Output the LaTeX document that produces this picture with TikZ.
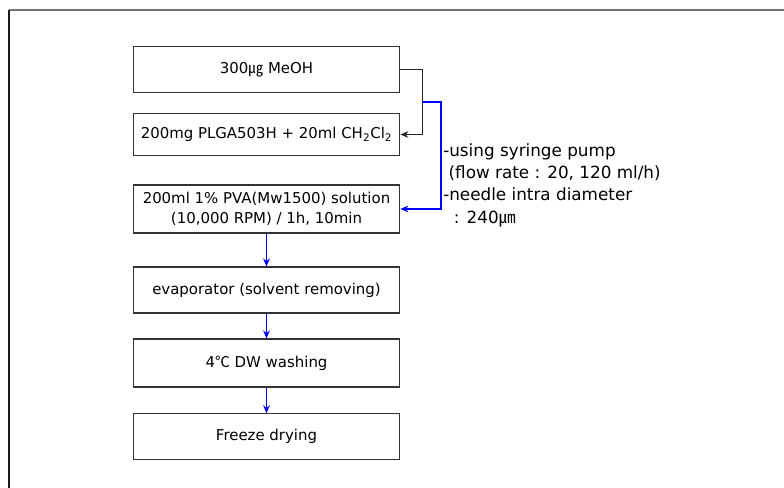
\documentclass[tikz,border=0pt]{standalone}
\usepackage{fontspec}
\setmainfont{DejaVu Sans}
\newfontfamily\cjk{Noto Sans CJK KR}
\usepackage{tikz}
\usetikzlibrary{arrows.meta,positioning,calc}
\newcommand{\ug}{{\cjk ㎍}}
\newcommand{\um}{{\cjk ㎛}}
\newcommand{\degc}{{\cjk ℃}}

\begin{document}
\begin{tikzpicture}[x=0.75pt, y=-0.75pt, >={Stealth[length=6pt,width=5pt]},
  stepbox/.style={draw=black!80, line width=0.8pt, minimum width=200pt, minimum height=34.5pt, inner sep=1pt, align=center, font=\fontsize{11.2}{15}\selectfont},
  flow/.style={->, blue, line width=1.3pt}]
  \useasboundingbox (0,0) rectangle (784,488);
  % outer frame
  \draw[black!55, line width=1.5pt] (9,10) -- (784,10);
  \draw[black!90, line width=1.3pt] (9,10) -- (9,488);
  \node[stepbox, minimum height=35pt] (meoh) at (266.5,69.5) {300\ug{} MeOH};
  \node[stepbox, minimum height=31pt] (plga) at (266.5,134.5) {200mg PLGA503H + 20ml CH\textsubscript{2}Cl\textsubscript{2}};
  \node[stepbox, minimum height=36pt] (pva) at (266.5,209) {200ml 1\% PVA(Mw1500) solution\\(10,000 RPM) / 1h, 10min};
  \node[stepbox] (evap) at (266.5,290) {evaporator (solvent removing)};
  \node[stepbox, minimum height=36pt] (wash) at (266.5,363) {4\degc{} DW washing};
  \node[stepbox, minimum height=34pt] (dry) at (266.5,436.5) {Freeze drying};
  \node[anchor=north west, align=left, inner sep=0pt, font=\fontsize{12.6}{16.8}\selectfont] (note) at (443,143)
    {-using syringe pump\\\ (flow rate : 20, 120 ml/h)\\-needle intra diameter\\\ \ : 240\um};
  % joining the two solutions
  \coordinate (split) at (422,102);
  \draw[->, black!85, line width=1.3pt] (meoh.east) -- ++(22,0) |- (plga.east);
  \draw[flow] (split) -- ++(19,0) |- (pva.east);
  \draw[flow] (pva) -- (evap);
  \draw[flow] (evap) -- (wash);
  \draw[flow] (wash) -- (dry);
\end{tikzpicture}
\end{document}
